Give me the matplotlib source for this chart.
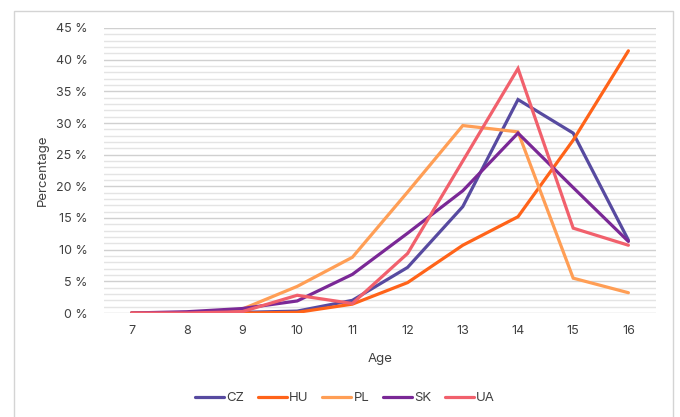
import matplotlib
matplotlib.use("Agg")
import matplotlib.pyplot as plt
from matplotlib.patches import Rectangle
from matplotlib.ticker import MultipleLocator, FuncFormatter

plt.rcParams['font.family'] = ['Inter', 'DejaVu Sans']

ages = [7, 8, 9, 10, 11, 12, 13, 14, 15, 16]

cz = [0.0, 0.0, 0.1, 0.3, 2.0, 7.2, 16.8, 33.7, 28.4, 11.5]
hu = [0.0, 0.0, 0.0, 0.1, 1.4, 4.8, 10.7, 15.2, 27.3, 41.4]
pl = [0.0, 0.0, 0.6, 4.2, 8.8, 19.1, 29.6, 28.6, 5.5, 3.2]
sk = [0.0, 0.2, 0.7, 1.9, 6.1, 12.6, 19.3, 28.4, 19.8, 11.3]
ua = [0.0, 0.0, 0.2, 2.8, 1.5, 9.4, 24.0, 38.6, 13.4, 10.7]

series = {
    "CZ": (cz, "#574AA0"),
    "HU": (hu, "#FF6319"),
    "PL": (pl, "#FF9E55"),
    "SK": (sk, "#7A2896"),
    "UA": (ua, "#F1606C"),
}

fig = plt.figure(figsize=(6.8, 4.17), dpi=100)
# outer chart border (cropped screenshot frame)
fig.patches.append(Rectangle((14 / 680, -0.1), (673 - 14) / 680, 1.1 - 11 / 417,
                             transform=fig.transFigure, fill=False,
                             edgecolor="#D4D4D4", linewidth=1.0))

ax = fig.add_axes([104 / 680, (417 - 313) / 417, (656 - 104) / 680, (313 - 28) / 417])

for name, (vals, color) in series.items():
    ax.plot(ages, vals, color=color, linewidth=2.3, label=name,
            solid_capstyle="round", solid_joinstyle="miter")

ax.set_xlim(6.5, 16.5)
ax.set_ylim(0, 45)
ax.set_xticks(ages)
ax.yaxis.set_major_locator(MultipleLocator(5))
ax.yaxis.set_minor_locator(MultipleLocator(1))
ax.yaxis.set_major_formatter(FuncFormatter(lambda v, p: f"{int(v)} %"))

ax.grid(axis="y", which="major", color="#D0D0D0", linewidth=1.0)
ax.grid(axis="y", which="minor", color="#E4E4E4", linewidth=1.0)
ax.set_axisbelow(True)

for s in ax.spines.values():
    s.set_visible(False)
ax.tick_params(axis="both", which="both", length=0, labelsize=9, colors="#404040")
ax.tick_params(axis="y", pad=12)
ax.tick_params(axis="x", pad=9)

ax.set_xlabel("Age", fontsize=9.5, color="#404040", labelpad=11)
ax.set_ylabel("Percentage", fontsize=9.5, color="#404040", labelpad=5)

ax.legend(loc="center", bbox_to_anchor=(345 / 680, (417 - 398) / 417),
          bbox_transform=fig.transFigure, ncol=5, frameon=False,
          fontsize=9.5, handlelength=2.2, handletextpad=0.2, columnspacing=1.0,
          labelcolor="#404040")

fig.savefig("out.png", dpi=100)
